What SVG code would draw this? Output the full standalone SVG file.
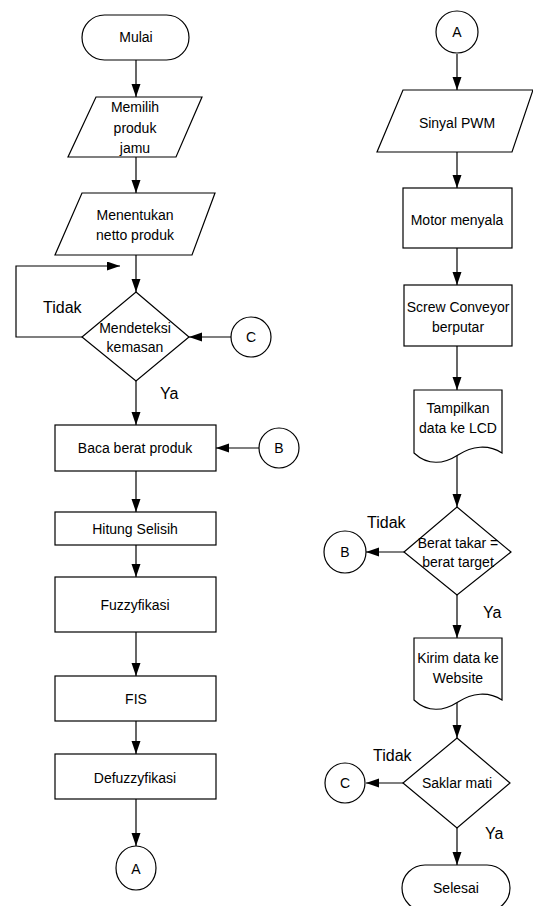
<svg xmlns="http://www.w3.org/2000/svg" width="533" height="906" viewBox="0 0 533 906">
<style>
.s{fill:#fff;stroke:#000;stroke-width:1.2}
.c{fill:none;stroke:#000;stroke-width:1.2}
text{font-family:"Liberation Sans",Arial,sans-serif;font-size:14px;fill:#000;text-anchor:middle}
.lb{font-size:16px;text-anchor:start}
</style>
<defs>
<marker id="ah" markerUnits="userSpaceOnUse" markerWidth="14" markerHeight="10" refX="13" refY="4.5" orient="auto">
<path d="M0,0 L13,4.5 L0,9 Z" fill="#000"/>
</marker>
</defs>
<rect width="533" height="906" fill="#fff"/>
<g id="connectors" class="c" marker-end="url(#ah)">
<path d="M136,60 V97"/>
<path d="M136,157 V193"/>
<path d="M136,255 V292"/>
<path d="M82,337 H16 V266 H120"/>
<path d="M231,337 H189"/>
<path d="M136,381 V425"/>
<path d="M259,448 H216"/>
<path d="M136,471 V512"/>
<path d="M136,545 V577"/>
<path d="M136,632 V676"/>
<path d="M136,721 V754"/>
<path d="M136,799 V846"/>
<path d="M457,54 V90"/>
<path d="M457,152 V188"/>
<path d="M457,248 V285"/>
<path d="M457,346 V390"/>
<path d="M457,455 V507"/>
<path d="M404,552 H366"/>
<path d="M457,595 V638"/>
<path d="M457,702 V738"/>
<path d="M403,783 H366"/>
<path d="M457,828 V865"/>
</g>
<g id="labels">
<text class="lb" x="43" y="313">Tidak</text>
<text class="lb" x="160" y="399">Ya</text>
<text class="lb" x="367" y="528">Tidak</text>
<text class="lb" x="483" y="618">Ya</text>
<text class="lb" x="373" y="761">Tidak</text>
<text class="lb" x="485" y="839">Ya</text>
</g>
<g id="mulai"><rect class="s" x="82" y="15" width="107" height="45" rx="22.5"/><text x="136" y="42">Mulai</text></g>
<g id="memilih"><path class="s" d="M96,97 H202 L176,157 H68 Z"/><text x="135" y="112">Memilih</text><text x="135" y="133">produk</text><text x="135" y="153">jamu</text></g>
<g id="menentukan"><path class="s" d="M82,193 H215 L192,255 H55 Z"/><text x="135" y="220">Menentukan</text><text x="135" y="240">netto produk</text></g>
<g id="mendeteksi"><path class="s" d="M136,292 L189,337 L136,381 L82,337 Z"/><text x="135" y="333">Mendeteksi</text><text x="135" y="352">kemasan</text></g>
<g id="conC1"><circle class="s" cx="251" cy="337" r="20"/><text x="251" y="342">C</text></g>
<g id="baca"><rect class="s" x="55" y="425" width="161" height="46"/><text x="135" y="453">Baca berat produk</text></g>
<g id="conB1"><circle class="s" cx="279" cy="448" r="20"/><text x="279" y="453">B</text></g>
<g id="hitung"><rect class="s" x="55" y="512" width="161" height="33"/><text x="135" y="534">Hitung Selisih</text></g>
<g id="fuzzy"><rect class="s" x="55" y="577" width="161" height="55"/><text x="135" y="610">Fuzzyfikasi</text></g>
<g id="fis"><rect class="s" x="55" y="676" width="161" height="45"/><text x="136" y="704">FIS</text></g>
<g id="defuzzy"><rect class="s" x="55" y="754" width="161" height="45"/><text x="135" y="783">Defuzzyfikasi</text></g>
<g id="conA1"><ellipse class="s" cx="136" cy="868" rx="20" ry="22"/><text x="136" y="874">A</text></g>
<g id="conA2"><circle class="s" cx="457" cy="32" r="21"/><text x="457" y="37">A</text></g>
<g id="pwm"><path class="s" d="M403,90 H533 L512,152 H377 Z"/><text x="457" y="128">Sinyal PWM</text></g>
<g id="motor"><rect class="s" x="403" y="188" width="109" height="60"/><text x="457" y="225">Motor menyala</text></g>
<g id="screw"><rect class="s" x="404" y="285" width="108" height="61"/><text x="458" y="312">Screw Conveyor</text><text x="458" y="332">berputar</text></g>
<g id="lcd"><path class="s" d="M414,390 H502 V453 C488,444 472,446 458,455 C444,464 428,466 414,453 Z"/><text x="458" y="413">Tampilkan</text><text x="458" y="433">data ke LCD</text></g>
<g id="berat"><path class="s" d="M457,507 L511,552 L457,595 L404,552 Z"/><text x="458" y="548">Berat takar =</text><text x="458" y="567">berat target</text></g>
<g id="conB2"><circle class="s" cx="345" cy="552" r="21"/><text x="345" y="557">B</text></g>
<g id="kirim"><path class="s" d="M414,638 H502 V700 C488,691 472,693 458,702 C444,711 428,713 414,700 Z"/><text x="458" y="663">Kirim data ke</text><text x="458" y="683">Website</text></g>
<g id="saklar"><path class="s" d="M457,738 L510,783 L457,828 L403,783 Z"/><text x="457" y="788">Saklar mati</text></g>
<g id="conC2"><circle class="s" cx="345" cy="783" r="20"/><text x="345" y="788">C</text></g>
<g id="selesai"><rect class="s" x="402" y="865" width="108" height="46" rx="23"/><text x="456" y="893">Selesai</text></g>
</svg>
